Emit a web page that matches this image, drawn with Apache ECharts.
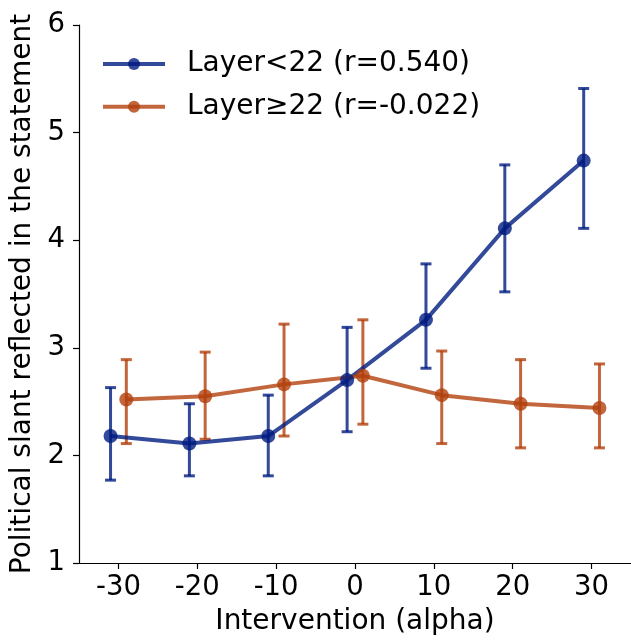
<!DOCTYPE html>
<html><head><meta charset="utf-8">
<script src="https://cdn.jsdelivr.net/npm/echarts@6/dist/echarts.min.js"></script>
<style>html,body{margin:0;padding:0;background:#fff}#c{width:631px;height:641px}</style>
</head><body><div id="c"></div>
<script>
const alphas = [-30, -20, -10, 0, 10, 20, 30];
const tickLabels = [-30, -20, -10, 0, 10, 20, 30];
const yTicks = [1, 2, 3, 4, 5, 6];
const blueName = 'Layer<22 (r=0.540)';
const blueMean = [2.18, 2.11, 2.18, 2.70, 3.26, 4.11, 4.74];
const blueLow  = [1.77, 1.81, 1.81, 2.22, 2.81, 3.52, 4.11];
const blueHigh = [2.63, 2.48, 2.56, 3.19, 3.78, 4.70, 5.41];
const orangeName = 'Layer≥22 (r=-0.022)';
const orangeMean = [2.52, 2.55, 2.66, 2.74, 2.56, 2.48, 2.44];
const orangeLow  = [2.11, 2.15, 2.18, 2.29, 2.11, 2.07, 2.07];
const orangeHigh = [2.89, 2.96, 3.22, 3.26, 2.97, 2.89, 2.85];

const FONT = 'DejaVu Sans';
const BLUE = '#001c7f', ORANGE = '#b1400d';
const DODGE = 1;

function pts(mean, off){ return alphas.map((a,i)=>[a+off, mean[i]]); }
function errData(low, high, off){ return alphas.map((a,i)=>[a+off, low[i], high[i]]); }
function errSeries(name, low, high, off, color){
  return {
    type:'custom', name: name+'_err', data: errData(low, high, off), z: 2,
    renderItem: function(params, api){
      const x = api.value(0);
      const p1 = api.coord([x, api.value(1)]);
      const p2 = api.coord([x, api.value(2)]);
      const hw = 5.5;
      const st = {stroke: color, lineWidth: 3, opacity: 0.8};
      return {type:'group', children:[
        {type:'line', shape:{x1:p1[0], y1:p1[1], x2:p2[0], y2:p2[1]}, style: st},
        {type:'line', shape:{x1:p1[0]-hw, y1:p1[1], x2:p1[0]+hw, y2:p1[1]}, style: st},
        {type:'line', shape:{x1:p2[0]-hw, y1:p2[1], x2:p2[0]+hw, y2:p2[1]}, style: st}
      ]};
    },
    silent:true
  };
}
function lineSeries(name, mean, off, color){
  return {
    type:'line', name, data: pts(mean, off), z: 3,
    symbol:'circle', symbolSize: 14, showSymbol: true,
    lineStyle:{color, width: 4, opacity: 0.8},
    itemStyle:{color, opacity: 0.8},
    emphasis:{disabled:true}, animation:false
  };
}

const chart = echarts.init(document.getElementById('c'), null, {renderer:'canvas'});
chart.setOption({
  animation:false,
  backgroundColor:'#fff',
  textStyle:{fontFamily: FONT},
  grid:{left:79, right:-9, top:25, bottom:75, containLabel:false},
  legend:{
    data:[blueName, orangeName], orient:'vertical', left:101, top:49,
    itemWidth:62, itemHeight:15, itemGap:12.7, padding:0,
    lineStyle:{width:4},
    textStyle:{fontFamily:FONT, fontSize:28, lineHeight:30, color:'#000', padding:[0,0,0,17]}
  },
  xAxis:{
    type:'value', min:-35, max:35,
    name:'Intervention (alpha)', nameLocation:'middle', nameGap:45,
    nameTextStyle:{fontFamily:FONT, fontSize:28, color:'#000'},
    axisLine:{show:true, onZero:false, lineStyle:{color:'#000', width:1.2}},
    axisTick:{show:true, customValues: tickLabels, length:6, lineStyle:{color:'#000', width:1.2}},
    axisLabel:{customValues: tickLabels, fontFamily:FONT, fontSize:27.5, color:'#000', margin:11},
    splitLine:{show:false}
  },
  yAxis:{
    type:'value', min:1, max:6, interval:1,
    name:'Political slant reflected in the statement', nameLocation:'middle', nameGap:36,
    nameTextStyle:{fontFamily:FONT, fontSize:28, color:'#000'},
    axisLine:{show:true, onZero:false, lineStyle:{color:'#000', width:1.2}},
    axisTick:{show:true, length:6, lineStyle:{color:'#000', width:1.2}},
    axisLabel:{fontFamily:FONT, fontSize:27.5, color:'#000', margin:14},
    splitLine:{show:false}
  },
  series:[
    errSeries(blueName, blueLow, blueHigh, -DODGE, BLUE),
    lineSeries(blueName, blueMean, -DODGE, BLUE),
    errSeries(orangeName, orangeLow, orangeHigh, DODGE, ORANGE),
    lineSeries(orangeName, orangeMean, DODGE, ORANGE)
  ]
});
</script></body></html>
